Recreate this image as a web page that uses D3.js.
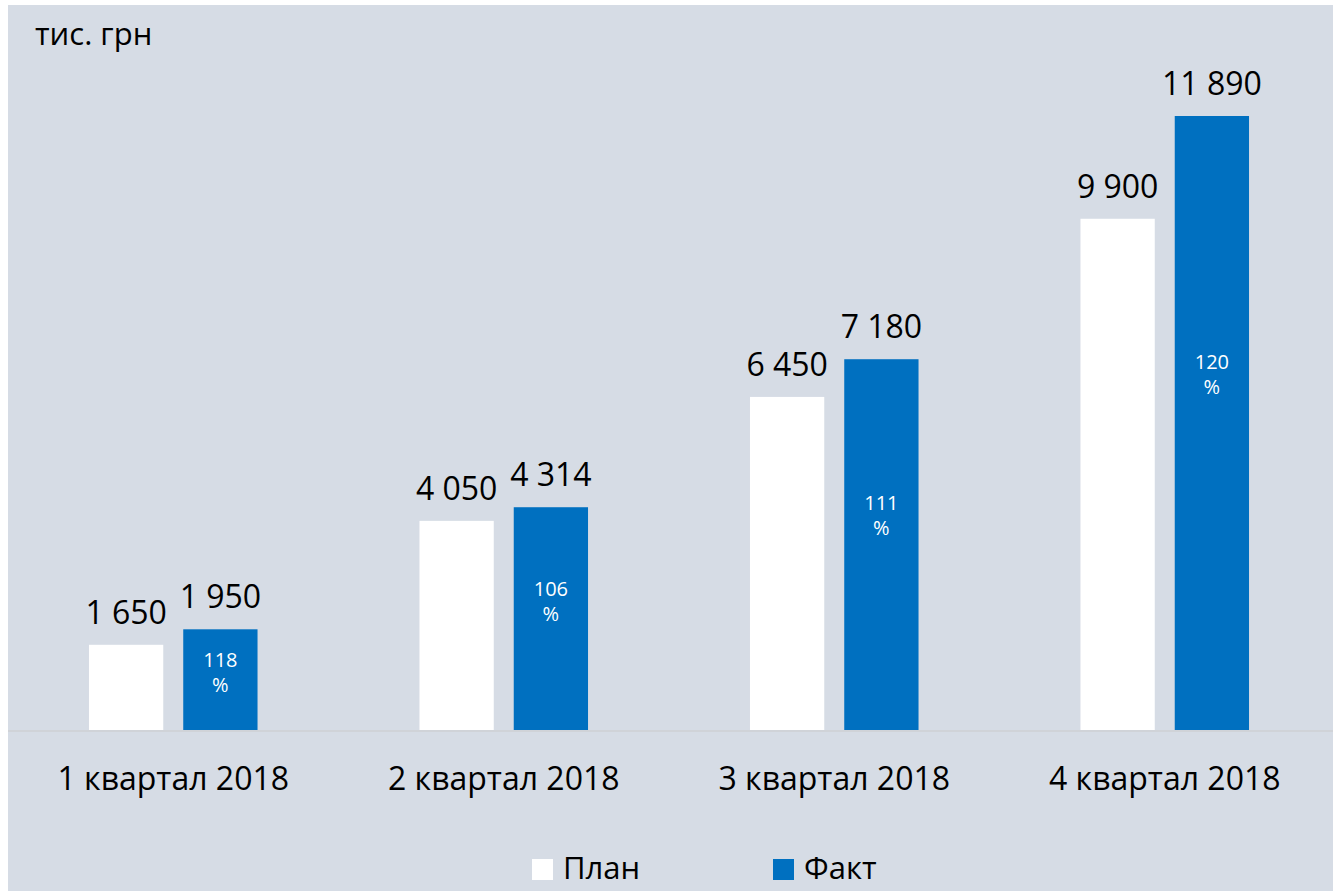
<!DOCTYPE html>
<html>
<head>
<meta charset="utf-8">
<script src="https://cdn.jsdelivr.net/npm/d3@7"></script>
<style>
  html, body { margin: 0; padding: 0; background: #ffffff; }
  svg { display: block; }
  text { font-family: "Open Sans", "Noto Sans", sans-serif; }
</style>
</head>
<body>
<svg id="chart" width="1340" height="891"></svg>
<script>
// Quarterly plan vs. actual, thousands of hryvnias
const quarters = ["1 квартал 2018", "2 квартал 2018", "3 квартал 2018", "4 квартал 2018"];
const planValues = [1650, 4050, 6450, 9900];
const factValues = [1950, 4314, 7180, 11890];
const factPercent = [118, 106, 111, 120];
const seriesNames = ["План", "Факт"];
const unitLabel = "тис. грн";

const W = 1340, H = 891;
const colors = { "План": "#ffffff", "Факт": "#0070c0" };
const panelFill = "#d6dce5";

const svg = d3.select("#chart");

// background panel
svg.append("rect")
  .attr("x", 8).attr("y", 5)
  .attr("width", 1325).attr("height", H - 5)
  .attr("fill", panelFill);

const baseY = 730;
const x = d3.scaleBand()
  .domain(quarters)
  .range([8, 1330])
  .paddingInner(0.49)
  .paddingOuter(0.245);

const xs = d3.scaleBand()
  .domain(seriesNames)
  .range([0, x.bandwidth()])
  .paddingInner(0.212);

const y = d3.scaleLinear()
  .domain([0, 11890])
  .range([baseY, 116]);

const rows = quarters.map((q, i) => ({
  q,
  items: [
    { s: "План", v: planValues[i] },
    { s: "Факт", v: factValues[i], pct: factPercent[i] }
  ]
}));

// baseline
svg.append("line")
  .attr("x1", 8).attr("x2", 1333)
  .attr("y1", baseY + 1).attr("y2", baseY + 1)
  .attr("stroke", "#d0d3d8")
  .attr("stroke-width", 2);

const groups = svg.append("g").selectAll("g")
  .data(rows)
  .join("g")
  .attr("transform", d => `translate(${x(d.q)},0)`);

groups.selectAll("rect")
  .data(d => d.items)
  .join("rect")
  .attr("x", d => xs(d.s))
  .attr("width", xs.bandwidth())
  .attr("y", d => y(d.v))
  .attr("height", d => baseY - y(d.v))
  .attr("fill", d => colors[d.s]);

// value labels above the bars
const fmt = v => d3.format(",")(v).replace(/,/g, " ");
groups.selectAll("text.val")
  .data(d => d.items)
  .join("text")
  .attr("class", "val")
  .attr("x", d => xs(d.s) + xs.bandwidth() / 2)
  .attr("y", d => y(d.v) - 21)
  .attr("text-anchor", "middle")
  .attr("font-size", 32)
  .attr("fill", "#000")
  .text(d => fmt(d.v));

// percentage of plan inside the actual bars
const pctG = groups.selectAll("g.pct")
  .data(d => d.items.filter(it => it.pct != null))
  .join("g")
  .attr("class", "pct")
  .attr("transform", d => `translate(${xs(d.s) + xs.bandwidth() / 2},${y(d.v * 0.58)})`);
pctG.append("text")
  .attr("text-anchor", "middle")
  .attr("y", -5)
  .attr("font-size", 20)
  .attr("fill", "#ffffff")
  .text(d => d.pct);
pctG.append("text")
  .attr("text-anchor", "middle")
  .attr("y", 20)
  .attr("font-size", 20)
  .attr("fill", "#ffffff")
  .text("%");

// category axis
const xAxis = svg.append("g")
  .attr("transform", `translate(0,${baseY})`)
  .call(d3.axisBottom(x).tickSize(0).tickPadding(0));
xAxis.select(".domain").remove();
xAxis.selectAll("text")
  .attr("y", 60)
  .attr("dy", 0)
  .attr("font-size", 32)
  .attr("font-family", "\"Open Sans\", \"Noto Sans\", sans-serif")
  .attr("fill", "#000");

// unit label
svg.append("text")
  .attr("x", 35).attr("y", 45)
  .attr("font-size", 31)
  .attr("fill", "#000")
  .text(unitLabel);

// legend
const legendX = [532, 773];
const legend = svg.append("g").selectAll("g")
  .data(seriesNames)
  .join("g")
  .attr("transform", (d, i) => `translate(${legendX[i]},859)`);
legend.append("rect")
  .attr("width", 21).attr("height", 21)
  .attr("fill", d => colors[d]);
legend.append("text")
  .attr("x", 31).attr("y", 20)
  .attr("font-size", 31)
  .attr("fill", "#000")
  .text(d => d);
</script>
</body>
</html>
